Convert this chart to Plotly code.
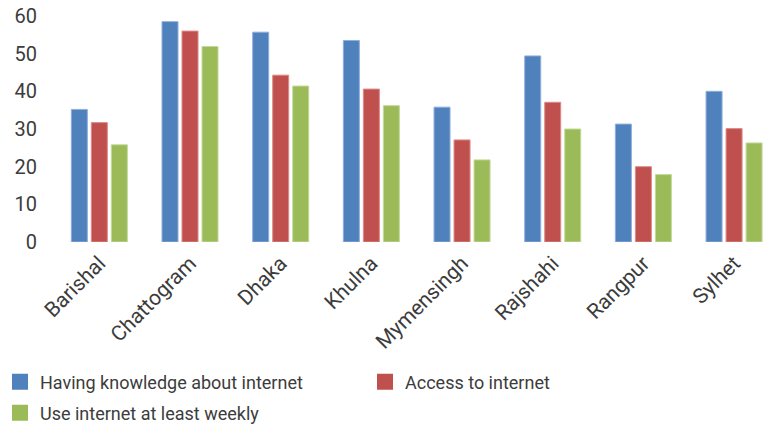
import plotly.graph_objects as go

# Division-level internet indicators (%)
divisions = ["Barishal", "Chattogram", "Dhaka", "Khulna",
             "Mymensingh", "Rajshahi", "Rangpur", "Sylhet"]
knowledge = [35.2, 58.5, 55.7, 53.5, 35.8, 49.4, 31.3, 40.0]
access = [31.7, 56.0, 44.3, 40.6, 27.1, 37.1, 20.0, 30.1]
weekly = [25.8, 51.9, 41.4, 36.2, 21.8, 30.0, 17.9, 26.3]

series_names = ["Having knowledge about internet",
                "Access to internet",
                "Use internet at least weekly"]
series_values = [knowledge, access, weekly]
fill_colors = ["#4F81BD", "#C0504D", "#9BBB59"]
rim_colors = ["#8FAEDA", "#DC8C8A", "#C3D99A"]
y_ticks = [0, 10, 20, 30, 40, 50, 60]

FONT = "Roboto"
TEXT = "#3c3c3c"
W, H = 764, 425

# one legend box per key: (id, left px, centre px from top)
legend_slots = [("legend", -3.5, 382), ("legend2", 365, 382), ("legend3", -3.5, 413)]

fig = go.Figure()

for name, vals, fc, rc in zip(series_names, series_values, fill_colors, rim_colors):
    fig.add_trace(go.Bar(
        x=divisions, y=vals, name=name, legendgroup=name, showlegend=False,
        marker=dict(color=fc, line=dict(color=rc, width=1)),
        hoverinfo="x+y+name",
    ))

for name, fc, (lg, _, _) in zip(series_names, fill_colors, legend_slots):
    fig.add_trace(go.Scatter(
        x=[None], y=[None], mode="markers", name=name, legendgroup=name,
        legend=lg,
        marker=dict(symbol="square", size=16, color=fc),
        hoverinfo="skip",
    ))

legends = {}
for lg, left, mid in legend_slots:
    legends[lg] = dict(
        orientation="h", xref="container", yref="container",
        x=left / W, y=1 - mid / H, xanchor="left", yanchor="middle",
        font=dict(family=FONT, size=18, color=TEXT),
        itemclick=False, bgcolor="rgba(0,0,0,0)",
    )

fig.update_layout(
    width=W, height=H,
    margin=dict(l=54, r=0, t=16, b=183),
    paper_bgcolor="white", plot_bgcolor="white",
    font=dict(family=FONT, color=TEXT),
    barmode="group", bargap=0.338, bargroupgap=0.2,
    showlegend=True,
    xaxis=dict(
        type="category", range=[-0.5, 7.33],
        showgrid=False, showline=False, zeroline=False, ticks="",
        tickangle=-45, tickfont=dict(family=FONT, size=21, color=TEXT),
        ticklabelstandoff=4,
    ),
    yaxis=dict(
        range=[0, 60], tickvals=y_ticks,
        showgrid=False, showline=False, zeroline=False, ticks="",
        tickfont=dict(family=FONT, size=20, color=TEXT),
        ticklabelstandoff=16,
    ),
    **legends,
)

fig.write_html("out.html")
